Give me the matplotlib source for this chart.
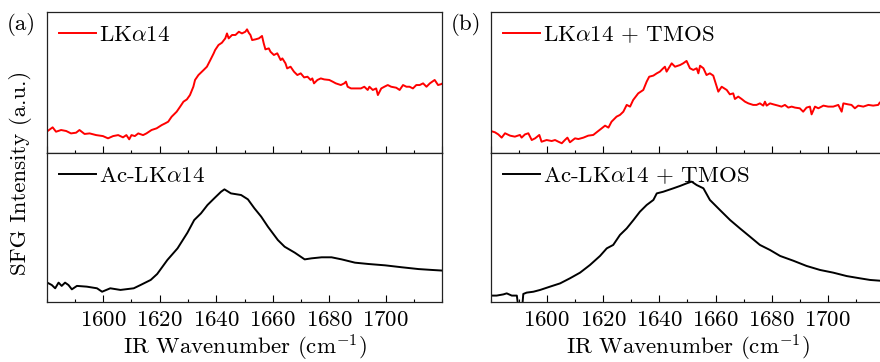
import numpy as np
import matplotlib
matplotlib.use("Agg")
import matplotlib.pyplot as plt
from matplotlib.ticker import MultipleLocator

plt.rcParams["font.family"] = "serif"
plt.rcParams["font.serif"] = ["cmr10"]
plt.rcParams["mathtext.fontset"] = "cm"
plt.rcParams["axes.formatter.use_mathtext"] = True

# --- dados (unidades arbitrarias, 0..1 por painel) ---
wn_a1 = [1580.0, 1582.1, 1583.3, 1585.1, 1586.9, 1588.6, 1590.4, 1591.6, 1593.4, 1595.2,
         1597.5, 1599.9, 1601.7, 1603.5, 1605.3, 1607.0, 1608.2, 1609.2, 1610.0, 1611.2,
         1612.4, 1614.1, 1615.3, 1617.1, 1618.9, 1620.7, 1621.9, 1623.0, 1624.2, 1626.0,
         1627.2, 1628.4, 1629.6, 1630.7, 1631.9, 1632.5, 1633.7, 1635.5, 1636.7, 1637.9,
         1639.1, 1639.6, 1640.8, 1642.0, 1643.2, 1643.8, 1644.4, 1645.6, 1646.8, 1648.0,
         1649.1, 1650.3, 1650.9, 1651.5, 1652.1, 1652.7, 1653.9, 1655.1, 1656.2, 1656.8,
         1657.4, 1658.6, 1659.2, 1660.4, 1661.6, 1662.8, 1663.4, 1664.5, 1665.1, 1666.3,
         1667.5, 1668.7, 1669.9, 1671.1, 1672.3, 1673.4, 1674.0, 1674.6, 1675.8, 1677.0,
         1678.2, 1680.0, 1681.2, 1682.3, 1684.1, 1685.3, 1685.9, 1686.5, 1687.7, 1689.5,
         1691.2, 1692.4, 1693.6, 1694.2, 1695.4, 1696.6, 1697.2, 1698.4, 1699.5, 1700.7,
         1701.9, 1703.7, 1704.9, 1706.1, 1707.3, 1708.4, 1709.6, 1710.8, 1712.0, 1713.2,
         1714.4, 1715.6, 1717.3, 1718.5, 1719.7, 1720.9]
int_a1 = [0.151, 0.182, 0.151, 0.163, 0.156, 0.139, 0.144, 0.163, 0.135, 0.139,
          0.127, 0.120, 0.104, 0.120, 0.127, 0.111, 0.127, 0.097, 0.127, 0.120,
          0.139, 0.127, 0.139, 0.163, 0.175, 0.198, 0.210, 0.222, 0.257, 0.293,
          0.328, 0.364, 0.380, 0.411, 0.470, 0.518, 0.553, 0.588, 0.612, 0.659,
          0.707, 0.730, 0.766, 0.782, 0.813, 0.848, 0.813, 0.837, 0.837, 0.860,
          0.848, 0.860, 0.877, 0.853, 0.837, 0.801, 0.806, 0.813, 0.830, 0.778,
          0.735, 0.742, 0.718, 0.695, 0.707, 0.659, 0.671, 0.636, 0.600, 0.612,
          0.577, 0.553, 0.565, 0.536, 0.541, 0.518, 0.529, 0.494, 0.518, 0.529,
          0.522, 0.518, 0.506, 0.494, 0.482, 0.494, 0.506, 0.470, 0.458, 0.458,
          0.458, 0.470, 0.447, 0.470, 0.447, 0.458, 0.411, 0.458, 0.470, 0.482,
          0.470, 0.463, 0.447, 0.482, 0.470, 0.470, 0.458, 0.482, 0.482, 0.494,
          0.470, 0.494, 0.518, 0.482, 0.489, 0.506]

wn_a2 = [1580.0, 1581.8, 1583.0, 1584.2, 1585.3, 1586.5, 1587.7, 1588.9, 1590.7, 1594.2,
         1597.8, 1599.6, 1602.5, 1606.1, 1610.8, 1613.2, 1616.8, 1619.1, 1622.7, 1626.3,
         1629.8, 1632.2, 1634.6, 1636.9, 1639.3, 1641.7, 1642.9, 1645.2, 1648.8, 1651.2,
         1653.5, 1655.9, 1658.3, 1661.8, 1664.2, 1667.8, 1671.3, 1673.7, 1677.3, 1680.8,
         1684.4, 1689.1, 1693.9, 1699.8, 1705.7, 1711.6, 1716.4, 1720.8]
int_a2 = [0.132, 0.114, 0.092, 0.130, 0.108, 0.130, 0.114, 0.085, 0.108, 0.103,
          0.092, 0.069, 0.092, 0.081, 0.092, 0.114, 0.148, 0.188, 0.282, 0.360,
          0.465, 0.550, 0.595, 0.651, 0.696, 0.740, 0.756, 0.729, 0.718, 0.689,
          0.629, 0.573, 0.505, 0.416, 0.371, 0.331, 0.286, 0.293, 0.300, 0.300,
          0.286, 0.264, 0.255, 0.246, 0.233, 0.221, 0.215, 0.210]

wn_b1 = [1580.0, 1581.5, 1582.7, 1583.9, 1585.1, 1586.9, 1588.6, 1590.4, 1591.0, 1592.2,
         1593.4, 1594.6, 1595.8, 1597.3, 1598.1, 1599.9, 1601.7, 1602.9, 1604.1, 1605.3,
         1606.4, 1607.3, 1608.2, 1610.0, 1611.2, 1613.0, 1614.7, 1616.5, 1617.7, 1619.5,
         1620.7, 1621.9, 1623.0, 1624.8, 1626.0, 1627.2, 1628.4, 1629.6, 1630.7, 1632.5,
         1634.3, 1635.5, 1636.4, 1637.9, 1639.1, 1640.2, 1641.4, 1642.0, 1642.6, 1644.4,
         1645.6, 1647.4, 1648.5, 1649.7, 1650.9, 1652.1, 1653.3, 1653.9, 1654.5, 1655.7,
         1656.8, 1658.0, 1659.2, 1661.0, 1662.2, 1664.0, 1665.1, 1666.3, 1666.9, 1668.1,
         1669.3, 1670.5, 1671.7, 1673.4, 1674.6, 1675.8, 1677.0, 1677.6, 1678.2, 1679.4,
         1680.6, 1682.3, 1683.5, 1684.7, 1685.9, 1687.1, 1688.3, 1690.0, 1691.2, 1692.4,
         1693.6, 1694.2, 1695.4, 1696.6, 1698.4, 1700.1, 1701.9, 1703.7, 1704.9, 1705.5,
         1707.2, 1708.4, 1709.6, 1710.8, 1712.6, 1714.4, 1716.1, 1717.9, 1718.5, 1720.0]
int_b1 = [0.156, 0.147, 0.132, 0.109, 0.140, 0.123, 0.116, 0.128, 0.109, 0.132,
          0.140, 0.092, 0.104, 0.128, 0.080, 0.092, 0.085, 0.092, 0.080, 0.069,
          0.092, 0.109, 0.076, 0.104, 0.099, 0.109, 0.123, 0.128, 0.147, 0.175,
          0.194, 0.180, 0.222, 0.258, 0.270, 0.293, 0.341, 0.329, 0.376, 0.423,
          0.447, 0.506, 0.541, 0.549, 0.565, 0.577, 0.601, 0.612, 0.577, 0.636,
          0.612, 0.624, 0.636, 0.653, 0.601, 0.589, 0.601, 0.565, 0.619, 0.601,
          0.553, 0.565, 0.549, 0.435, 0.470, 0.447, 0.416, 0.423, 0.383, 0.400,
          0.383, 0.364, 0.352, 0.341, 0.341, 0.352, 0.336, 0.364, 0.336, 0.352,
          0.345, 0.336, 0.329, 0.341, 0.322, 0.329, 0.322, 0.317, 0.293, 0.322,
          0.329, 0.274, 0.329, 0.317, 0.336, 0.329, 0.329, 0.341, 0.293, 0.352,
          0.345, 0.341, 0.317, 0.336, 0.329, 0.341, 0.336, 0.341, 0.359, 0.360]

wn_b2 = [1580.0, 1582.1, 1584.5, 1585.7, 1587.5, 1589.3, 1590.0, 1591.1, 1591.6, 1592.8,
         1595.2, 1597.6, 1601.1, 1604.7, 1608.2, 1611.8, 1615.3, 1618.9, 1621.3, 1623.6,
         1626.0, 1628.4, 1630.8, 1633.1, 1635.5, 1637.9, 1639.1, 1641.4, 1645.0, 1647.4,
         1649.7, 1651.5, 1653.3, 1655.7, 1658.0, 1661.6, 1665.2, 1668.7, 1672.3, 1675.8,
         1679.4, 1683.0, 1687.7, 1692.4, 1697.2, 1701.9, 1706.7, 1711.4, 1715.0, 1718.5]
int_b2 = [0.043, 0.043, 0.051, 0.058, 0.043, 0.043, -0.06, -0.06, 0.054, 0.063,
          0.069, 0.081, 0.103, 0.125, 0.159, 0.197, 0.248, 0.309, 0.360, 0.383,
          0.450, 0.494, 0.550, 0.606, 0.651, 0.685, 0.729, 0.740, 0.763, 0.779,
          0.796, 0.808, 0.785, 0.763, 0.685, 0.617, 0.550, 0.494, 0.438, 0.383,
          0.349, 0.309, 0.277, 0.242, 0.215, 0.197, 0.174, 0.159, 0.148, 0.143]

lab_a1 = r"LK$\alpha$14"
lab_a2 = r"Ac-LK$\alpha$14"
lab_b1 = r"LK$\alpha$14 + TMOS"
lab_b2 = r"Ac-LK$\alpha$14 + TMOS"

FS = 16.5
W, H = 880, 362

fig = plt.figure(figsize=(8.8, 3.62), dpi=100)

def painel(x0, w, y_top, y_bot):
    return fig.add_axes([x0 / W, 1 - y_bot / H, w / W, (y_bot - y_top) / H])

axs = {
    "a1": painel(46.7, 395.6, 12, 153),
    "a2": painel(46.7, 395.6, 153, 302),
    "b1": painel(490.7, 393.4, 12, 153),
    "b2": painel(490.7, 393.4, 153, 302),
}

series = [
    ("a1", wn_a1, int_a1, "#ff0000", lab_a1),
    ("a2", wn_a2, int_a2, "black", lab_a2),
    ("b1", wn_b1, int_b1, "#ff0000", lab_b1),
    ("b2", wn_b2, int_b2, "black", lab_b2),
]

for key, x, y, cor, lab in series:
    ax = axs[key]
    ax.plot(x, y, color=cor, linewidth=1.4, label=lab)
    ax.set_xlim(1580, 1720)
    ax.set_ylim(0, 1)
    ax.set_yticks([])
    ax.xaxis.set_major_locator(MultipleLocator(20))
    ax.xaxis.set_minor_locator(MultipleLocator(10))
    ax.tick_params(axis="x", which="major", direction="in", length=4.8, width=0.8,
                   labelsize=FS, pad=6)
    ax.tick_params(axis="x", which="minor", direction="in", length=2.4, width=0.8)
    for s in ax.spines.values():
        s.set_linewidth(0.9)
        s.set_color("#222222")
    if key.endswith("1"):
        ax.tick_params(axis="x", labelbottom=False)
    else:
        ax.set_xticks([1600, 1620, 1640, 1660, 1680, 1700])
        ax.set_xlabel(r"IR Wavenumber (cm$^{\mathregular{-1}}$)", fontsize=FS, labelpad=2)
    ax.legend(loc="upper left", frameon=False, fontsize=FS, handlelength=1.6,
              handletextpad=0.15, borderpad=0.1, borderaxespad=0.45)

fig.text(21 / W, 1 - 173 / H, "SFG Intensity (a.u.)", rotation=90, fontsize=FS,
         ha="center", va="center")
fig.text(21 / W, 1 - 25 / H, "(a)", fontsize=FS, ha="center", va="center")
fig.text(466 / W, 1 - 25 / H, "(b)", fontsize=FS, ha="center", va="center")

fig.savefig("out.png", dpi=100)
